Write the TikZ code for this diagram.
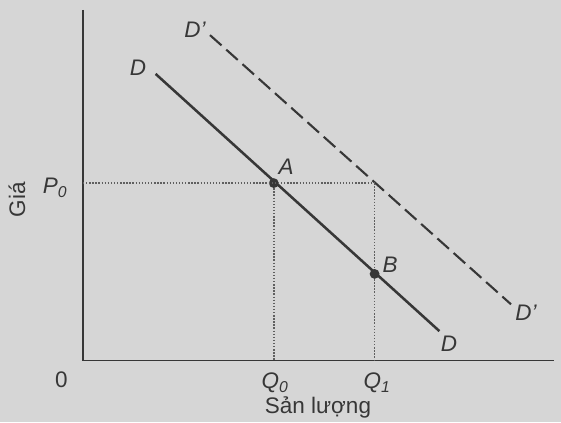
\documentclass[tikz,border=0pt]{standalone}
\usepackage{fontspec}
\setmainfont{Liberation Sans}
\usepackage{tikz}
\usetikzlibrary{positioning}
\definecolor{paper}{RGB}{214,214,214}
\definecolor{ink}{RGB}{55,55,55}

\begin{document}
\begin{tikzpicture}[
  axis/.style={draw=ink, line width=1.1pt},
  curve/.style={draw=ink, line width=1.8pt},
  shifted/.style={draw=ink, line width=1.5pt, dash pattern=on 11pt off 4.5pt},
  guide/.style={draw=ink!80, line width=1pt, dash pattern=on 1pt off 1.2pt},
  dot/.style={circle, fill=ink, inner sep=0pt, minimum size=7pt},
  lbl/.style={text=ink, inner sep=1pt, font=\fontsize{16}{18}\selectfont\itshape},
  txt/.style={text=ink, inner sep=1pt, font=\fontsize{16}{18}\selectfont}
]
  \fill[paper] (-2.075,-1.5325) rectangle (11.95,9.0175);
  \useasboundingbox (-2.075,-1.5325) rectangle (11.95,9.0175);

  % axes
  \coordinate (o) at (0,0);
  \coordinate (ytop) at (0,8.77);
  \coordinate (xend) at (11.775,0);
  \draw[axis] (ytop) -- (o) -- (xend);

  % demand curves
  \coordinate (d1) at (1.815,7.17);
  \coordinate (d2) at (8.91,0.74);
  \coordinate (dd1) at (3.175,8.14);
  \coordinate (dd2) at (10.7,1.41);
  \draw[shifted] (dd1) -- (dd2);
  \draw[curve] (d1) -- (d2);

  % points and guides
  \coordinate (p0) at (0,4.44);
  \coordinate (q0) at (4.77,0);
  \coordinate (q1) at (7.29,0);
  \coordinate (c) at (7.29,4.44);
  \node[dot] (a) at (4.77,4.44) {};
  \node[dot] (b) at (7.29,2.17) {};
  \draw[guide] (p0) -- (c);
  \draw[guide] (a) -- (q0);
  \draw[guide] (c) -- (b) -- (q1);

  % labels
  \node[lbl] (ldd1) at (2.8,8.27) {D'};
  \node[lbl] (ld1) at (1.375,7.32) {D};
  \node[lbl] (ldd2) at (11.075,1.19) {D'};
  \node[lbl] (ld2) at (9.15,0.42) {D};
  \node[lbl] (la) at (5.075,4.84) {A};
  \node[lbl] (lb) at (7.675,2.39) {B};
  \node[lbl] (lp0) at (-0.7,4.32) {P\textsubscript{0}};
  \node[lbl] (lq0) at (4.8,-0.56) {Q\textsubscript{0}};
  \node[lbl] (lq1) at (7.35,-0.56) {Q\textsubscript{1}};
  \node[txt] (lo) at (-0.54,-0.48) {0};
  \node[txt, rotate=90] (lgia) at (-1.65,4.02) {Giá};
  \node[txt] (lsl) at (5.875,-1.18) {Sản lượng};
\end{tikzpicture}
\end{document}
